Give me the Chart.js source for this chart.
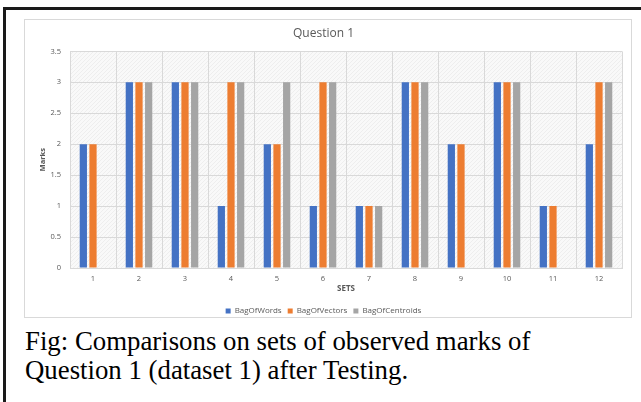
<!DOCTYPE html>
<html>
<head>
<meta charset="utf-8">
<script src="https://cdn.jsdelivr.net/npm/chart.js@4.4.1/dist/chart.umd.min.js"></script>
<style>
    body { margin: 0; background: #ffffff; width: 641px; height: 402px; overflow: hidden; position: relative; }
    .frame { position: absolute; left: 3px; top: 7px; width: 700px; height: 500px; border-left: 3px solid #1a1a1a; border-top: 3px solid #1a1a1a; }
    .chart-box { position: absolute; left: 24px; top: 19px; width: 608px; height: 299px; border: 1px solid #d9d9d9; box-sizing: border-box; background: #ffffff; }
    .caption { position: absolute; left: 25px; top: 327px; font-family: "Liberation Serif", serif; font-size: 26.8px; line-height: 29px; color: #000000; white-space: nowrap; }
</style>
</head>
<body>
<div class="frame"></div>
<div class="chart-box"><canvas id="chart" width="606" height="297"></canvas></div>
<div class="caption">Fig: Comparisons on sets of observed marks of<br>Question 1 (dataset 1) after Testing.</div>
<script>
// Data
const sets = ['1', '2', '3', '4', '5', '6', '7', '8', '9', '10', '11', '12'];
const bagOfWords = [2, 3, 3, 1, 2, 1, 1, 3, 2, 3, 1, 2];
const bagOfVectors = [2, 3, 3, 3, 2, 3, 1, 3, 2, 3, 1, 3];
const bagOfCentroids = [null, 3, 3, 3, 3, 3, 1, 3, null, 3, null, 3];
const yTicks = [0, 0.5, 1, 1.5, 2, 2.5, 3, 3.5];

const textColor = '#595959';
const gridColor = '#d9d9d9';

// light hatched fill for the plot area, like the Excel pattern
function makeHatch() {
    const c = document.createElement('canvas');
    c.width = 4;
    c.height = 4;
    const g = c.getContext('2d');
    g.fillStyle = '#f9f9f9';
    g.fillRect(0, 0, 4, 4);
    g.fillStyle = '#eeeeee';
    g.fillRect(0, 3, 1, 1);
    g.fillRect(1, 2, 1, 1);
    g.fillRect(2, 1, 1, 1);
    g.fillRect(3, 0, 1, 1);
    return g.createPattern(c, 'repeat');
}

const plotBackground = {
    id: 'plotBackground',
    beforeDraw(chart) {
        const { ctx, chartArea } = chart;
        ctx.save();
        ctx.fillStyle = makeHatch();
        ctx.fillRect(chartArea.left, chartArea.top, chartArea.right - chartArea.left, chartArea.bottom - chartArea.top);
        ctx.restore();
    }
};

function series(label, data, color) {
    return {
        label: label,
        data: data,
        backgroundColor: color,
        borderWidth: 0,
        categoryPercentage: 0.63,
        barPercentage: 0.75
    };
}

new Chart(document.getElementById('chart'), {
    type: 'bar',
    data: {
        labels: sets,
        datasets: [
            series('BagOfWords', bagOfWords, '#4472c4'),
            series('BagOfVectors', bagOfVectors, '#ed7d31'),
            series('BagOfCentroids', bagOfCentroids, '#a5a5a5')
        ]
    },
    options: {
        responsive: false,
        animation: false,
        layout: { padding: { left: 0, right: 9, top: 0, bottom: -8 } },
        plugins: {
            title: {
                display: true,
                text: 'Question 1',
                color: textColor,
                font: { family: 'Open Sans', size: 12, weight: 'normal' },
                padding: { top: 6, bottom: 11 }
            },
            legend: {
                position: 'bottom',
                labels: {
                    color: textColor,
                    font: { family: 'Open Sans', size: 8 },
                    boxWidth: 5,
                    boxHeight: 5,
                    padding: 6
                }
            },
            tooltip: { enabled: false }
        },
        scales: {
            x: {
                afterFit: (scale) => { scale.height = 33; },
                grid: { color: gridColor, drawTicks: false },
                border: { color: gridColor },
                ticks: { color: textColor, font: { family: 'Open Sans', size: 7.5 }, padding: 6 },
                title: {
                    display: true,
                    text: 'SETS',
                    color: textColor,
                    font: { family: 'Open Sans', size: 8, weight: 'bold' },
                    padding: { top: 0, bottom: 7 }
                }
            },
            y: {
                min: 0,
                max: 3.5,
                afterBuildTicks: (scale) => { scale.ticks = yTicks.map(v => ({ value: v })); },
                afterFit: (scale) => { scale.width = 45; },
                grid: { color: gridColor, drawTicks: false },
                border: { color: gridColor },
                ticks: {
                    color: textColor,
                    font: { family: 'Open Sans', size: 7.5 },
                    padding: 9,
                    callback: (value) => String(value)
                },
                title: {
                    display: true,
                    text: 'Marks',
                    color: textColor,
                    font: { family: 'Open Sans', size: 7.5, weight: 'bold' },
                    padding: { top: 13, bottom: 0 }
                }
            }
        }
    },
    plugins: [plotBackground]
});
</script>
</body>
</html>
